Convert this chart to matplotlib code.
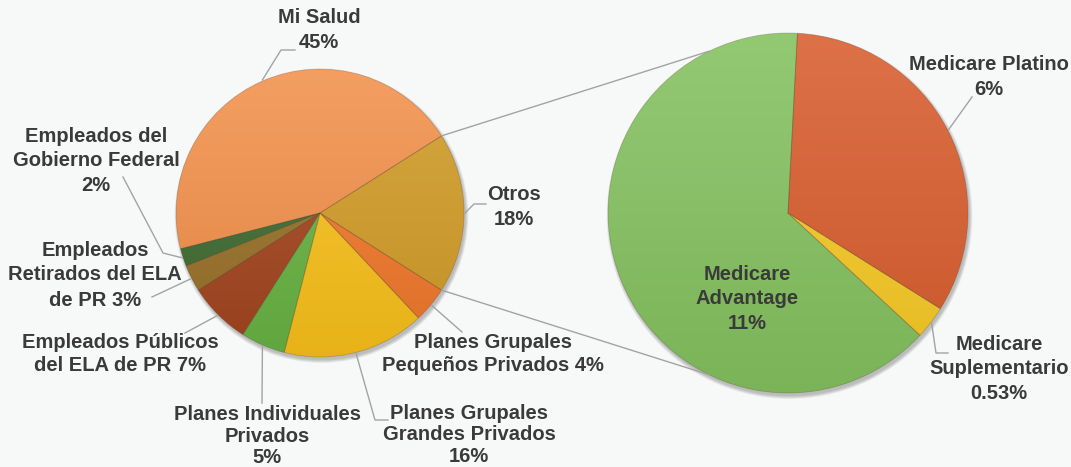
import numpy as np
import matplotlib.pyplot as plt
from matplotlib.colors import to_rgb
from matplotlib.patches import Circle

plt.rcParams['font.family'] = ['Liberation Sans', 'DejaVu Sans']

W, H = 1071, 467

# main pie (order: counter-clockwise starting with Otros)
main_labels = ["Otros\n18%", "Mi Salud\n45%", "Empleados del\nGobierno Federal\n2%",
               "Empleados\nRetirados del ELA\nde PR 3%", "Empleados Públicos\ndel ELA de PR 7%",
               "Planes Individuales\nPrivados\n5%", "Planes Grupales\nGrandes Privados\n16%",
               "Planes Grupales\nPequeños Privados 4%"]
main_values = [18, 45, 2, 3, 7, 5, 16, 4]
main_colors = ["#D19B26", "#F2904A", "#3D6A30", "#987027", "#A3441E",
               "#68B242", "#F8C01A", "#F0772A"]

# breakdown of "Otros"
sub_labels = ["Medicare\nAdvantage\n11%", "Medicare\nSuplementario\n0.53%", "Medicare Platino\n6%"]
sub_values = [11.4, 0.53, 5.9]
sub_colors = ["#84C15F", "#F6C924", "#D85C2D"]

TXT = "#3A3A3A"
LINE = "#A3A3A3"


def P(x, y):
    # pixel coords (top-left origin) -> data coords
    return x, H - y


fig = plt.figure(figsize=(W / 100, H / 100), dpi=100)
fig.patch.set_facecolor("#F7F8F8")
ax = fig.add_axes([0, 0, 1, 1])
ax.set_facecolor("#F7F8F8")

c1, r1 = P(320, 213), 144
c2, r2 = P(788, 213), 180

# soft shadows
for (cx, cy), r in [(c1, r1), (c2, r2)]:
    for k in range(6):
        ax.add_patch(Circle((cx + 1.5, cy - 3), r + 3 - k * 0.6, color="black",
                            alpha=0.045, lw=0, zorder=0.5))


def shaded_pie(values, colors, center, radius, start):
    wedges, _ = ax.pie(values, colors=colors, startangle=start, counterclock=True,
                       center=center, radius=radius,
                       wedgeprops=dict(linewidth=0), frame=True)
    cx, cy = center
    t = np.linspace(0, 1, 256)[:, None]
    for w, col in zip(wedges, colors):
        c = np.array(to_rgb(col))
        top = c + (1 - c) * 0.13
        bot = c * 0.93
        grad = np.clip(bot + (top - bot) * t, 0, 1)
        img = np.repeat(grad[:, None, :], 2, axis=1)
        im = ax.imshow(img, extent=(cx - radius, cx + radius, cy - radius, cy + radius),
                       origin="lower", interpolation="bilinear", zorder=2)
        im.set_clip_path(w)
        w.set_facecolor("none")
        w.set_edgecolor((0.3, 0.2, 0.1, 0.25))
        w.set_linewidth(0.6)
        w.set_zorder(3)
    return wedges


start1 = -main_values[0] / sum(main_values) * 180
w1 = shaded_pie(main_values, main_colors, c1, r1, start1)
w2 = shaded_pie(sub_values, sub_colors, c2, r2, 87)


def edge(center, r, ang):
    a = np.deg2rad(ang)
    return center[0] + r * np.cos(a), center[1] + r * np.sin(a)


# connectors between the pies
for a1, a2 in [(w1[0].theta2, 116), (w1[0].theta1, 244)]:
    p1 = edge(c1, r1, a1)
    p2 = edge(c2, r2, a2)
    ax.plot([p1[0], p2[0]], [p1[1], p2[1]], color=LINE, lw=1.0, zorder=4)

# label placement: text centre, line spacing and leader elbows in pixels
main_pos = [(514, 207), (319, 30), (96, 161), (95, 275), (120, 354),
            (267, 436), (469, 435), (493, 354)]
main_ls = [1.35, 1.4, 1.35, 1.4, 1.3, 1.18, 1.18, 1.3]
main_leaders = [[(474, 204), (486, 204)], [(281, 50), (295, 50)],
                [(163, 253), (123, 177)], [(152, 297)], [(185, 333)],
                [(262, 403)], [(375, 420), (388, 420)], [(462, 332)]]
sub_pos = [(747, 299), (999, 369), (989, 77)]
sub_ls = [1.35, 1.35, 1.35]
sub_leaders = [None, [(936, 353), (948, 353)], [(972, 97)]]


def label(wedges, center, r, labels, pos, spacing, leaders):
    for w, lab, (x, y), ls, ld in zip(wedges, labels, pos, spacing, leaders):
        ax.text(*P(x, y), lab, ha="center", va="center", fontsize=14.5,
                fontweight="bold", color=TXT, linespacing=ls, zorder=6)
        if ld is None:
            continue
        mid = (w.theta1 + w.theta2) / 2
        pts = [edge(center, r + 1, mid)] + [P(*p) for p in ld]
        xs, ys = zip(*pts)
        ax.plot(xs, ys, color=LINE, lw=1.0, zorder=4)


label(w1, c1, r1, main_labels, main_pos, main_ls, main_leaders)
label(w2, c2, r2, sub_labels, sub_pos, sub_ls, sub_leaders)

ax.set_xlim(0, W)
ax.set_ylim(0, H)
ax.set_aspect("equal", adjustable="box")
ax.axis("off")

fig.savefig("out.png", dpi=100, facecolor=fig.get_facecolor())
